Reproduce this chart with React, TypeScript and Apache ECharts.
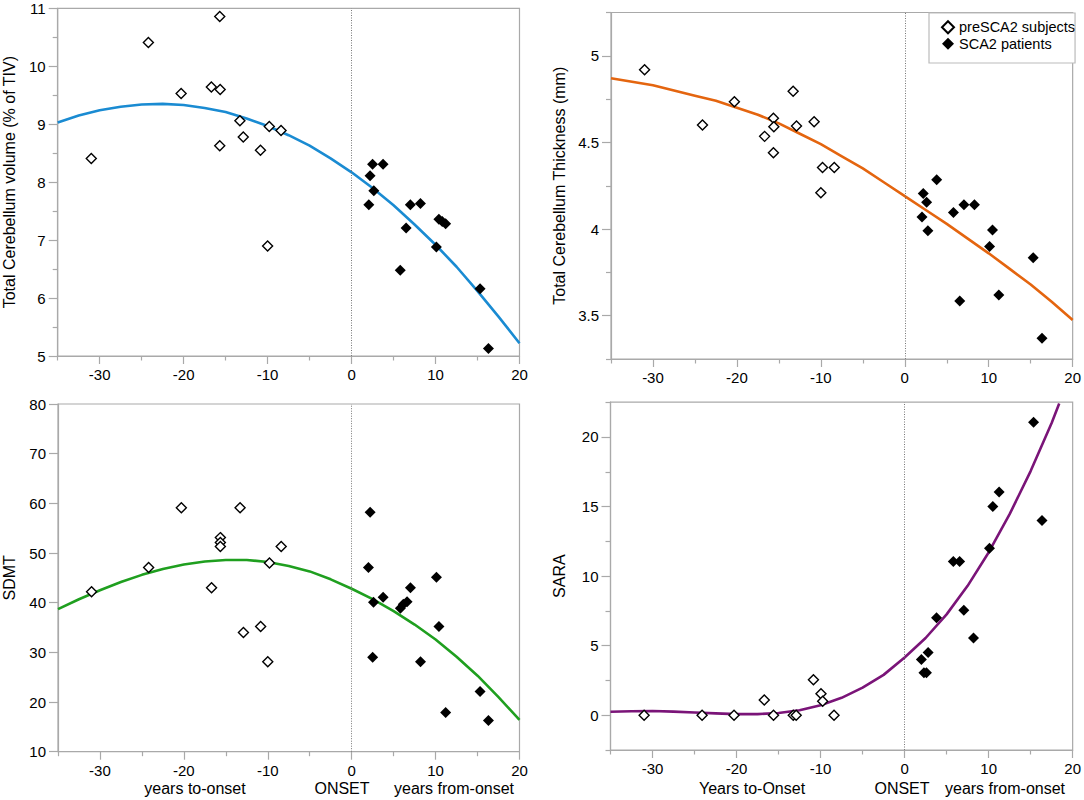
import React, { useEffect, useRef } from "react";
import * as echarts from "echarts";

// ---------- data ----------
const xMajorTicks = [-30, -20, -10, 0, 10, 20];
const xMinorTicks = [-35, -25, -15, -5, 5, 15];

// fitted curves are read every 2.5 years
const curveYears = [-35, -32.5, -30, -27.5, -25, -22.5, -20, -17.5, -15, -12.5, -10, -7.5, -5, -2.5, 0, 2.5, 5, 7.5, 10, 12.5, 15, 17.5, 20];

// Panel 1: Total cerebellum volume
const volTicks = [5, 6, 7, 8, 9, 10, 11];
const volMinor = [5.5, 6.5, 7.5, 8.5, 9.5, 10.5];
const volCurveY = [9.03, 9.15, 9.24, 9.3, 9.34, 9.35, 9.33, 9.28, 9.21, 9.1, 8.97, 8.81, 8.63, 8.41, 8.17, 7.9, 7.6, 7.27, 6.92, 6.54, 6.12, 5.68, 5.22];
const volPreX = [-31.0, -24.2, -20.3, -16.7, -15.65, -15.7, -15.7, -13.3, -12.9, -10.85, -9.8, -10.0, -8.4];
const volPreY = [8.41, 10.41, 9.53, 9.64, 9.6, 10.86, 8.63, 9.06, 8.78, 8.55, 8.96, 6.9, 8.89];
const volPatX = [2.05, 2.2, 2.5, 2.65, 3.75, 5.8, 6.5, 7.0, 8.2, 10.1, 10.4, 10.8, 11.2, 15.3, 16.3];
const volPatY = [7.61, 8.11, 8.31, 7.85, 8.31, 6.48, 7.21, 7.61, 7.63, 6.88, 7.36, 7.32, 7.28, 6.16, 5.13];

// Panel 2: Total cerebellum thickness
const thkTicks = [3.5, 4, 4.5, 5];
const thkMinor = [3.25, 3.75, 4.25, 4.75, 5.25];
const thkCurveY = [4.87, 4.85, 4.83, 4.8, 4.77, 4.74, 4.7, 4.66, 4.61, 4.55, 4.49, 4.42, 4.35, 4.27, 4.19, 4.11, 4.03, 3.945, 3.86, 3.77, 3.68, 3.58, 3.475];
const thkPreX = [-31.0, -24.1, -20.3, -16.7, -15.65, -15.6, -15.65, -13.3, -12.9, -10.8, -9.8, -10.0, -8.4];
const thkPreY = [4.92, 4.6, 4.735, 4.535, 4.64, 4.59, 4.44, 4.795, 4.595, 4.62, 4.355, 4.21, 4.355];
const thkPatX = [2.05, 2.2, 2.6, 2.75, 3.8, 5.8, 6.55, 7.05, 8.3, 10.1, 10.45, 11.2, 15.3, 16.35];
const thkPatY = [4.07, 4.205, 4.155, 3.99, 4.285, 4.095, 3.585, 4.14, 4.14, 3.9, 3.995, 3.62, 3.835, 3.37];

// Panel 3: SDMT
const sdmtTicks = [10, 20, 30, 40, 50, 60, 70, 80];
const sdmtMinor: number[] = [];
const sdmtCurveY = [38.7, 40.7, 42.5, 44.15, 45.6, 46.8, 47.7, 48.3, 48.6, 48.6, 48.2, 47.4, 46.3, 44.7, 42.8, 40.7, 38.3, 35.6, 32.6, 29.1, 25.3, 21.0, 16.4];
const sdmtPreX = [-31.0, -24.2, -20.3, -16.7, -15.65, -15.65, -15.65, -13.3, -12.9, -10.85, -9.8, -10.0, -8.4];
const sdmtPreY = [42.2, 47.1, 59.1, 43.0, 53.1, 52.1, 51.3, 59.1, 34.0, 35.2, 48.0, 28.1, 51.3];
const sdmtPatX = [2.2, 2.0, 2.6, 2.5, 3.75, 5.8, 6.15, 6.6, 7.0, 8.2, 10.1, 10.4, 11.2, 15.3, 16.3];
const sdmtPatY = [58.2, 47.1, 40.1, 29.0, 41.1, 38.9, 39.7, 40.2, 43.0, 28.1, 45.1, 35.2, 17.9, 22.1, 16.3];

// Panel 4: SARA (curve leaves the plot at the top near 18.4 years)
const saraTicks = [0, 5, 10, 15, 20];
const saraMinor = [-2.5, 2.5, 7.5, 12.5, 17.5, 22.5];
const saraCurveX = [-35, -32.5, -30, -27.5, -25, -22.5, -20, -17.5, -15, -12.5, -10, -7.5, -5, -2.5, 0, 2.5, 5, 7.5, 10, 12.5, 15, 17.5, 18.4];
const saraCurveY = [0.25, 0.29, 0.3, 0.26, 0.2, 0.13, 0.08, 0.08, 0.16, 0.36, 0.72, 1.25, 1.98, 2.9, 4.15, 5.55, 7.25, 9.3, 11.7, 14.45, 17.55, 21.0, 22.4];
const saraPreX = [-31.0, -24.1, -20.3, -16.7, -15.6, -13.25, -12.9, -10.85, -9.95, -9.75, -8.4];
const saraPreY = [0, 0, 0, 1.1, 0, 0, 0, 2.55, 1.55, 1.0, 0];
const saraPatX = [2.0, 2.3, 2.6, 2.8, 3.8, 5.8, 6.55, 7.05, 8.2, 10.1, 10.5, 11.25, 15.35, 16.35];
const saraPatY = [4.0, 3.05, 3.05, 4.5, 7.0, 11.05, 11.05, 7.55, 5.55, 12.0, 15.0, 16.05, 21.05, 14.0];

const PRE_NAME = "preSCA2 subjects";
const PAT_NAME = "SCA2 patients";
const FONT = "'Liberation Sans', Arial, Helvetica, sans-serif";
const AXIS_GRAY = "#a9a9a9";

type Panel = {
  grid: { left: number; top: number; width: number; height: number };
  yMin: number;
  yMax: number;
  yMajor: number[];
  yMinor: number[];
  yName: string;
  nameGap: number;
  color: string;
  smooth: boolean | number;
  cx: number[];
  cy: number[];
  px: number[];
  py: number[];
  qx: number[];
  qy: number[];
};

const panels: Panel[] = [
  {
    grid: { left: 57.7, top: 8.3, width: 461.8, height: 347.7 },
    yMin: 5, yMax: 11, yMajor: volTicks, yMinor: volMinor,
    yName: "Total Cerebellum volume (% of TIV)", nameGap: 40,
    color: "#1a8bd2", smooth: false,
    cx: curveYears, cy: volCurveY, px: volPreX, py: volPreY, qx: volPatX, qy: volPatY,
  },
  {
    grid: { left: 611, top: 12.5, width: 462.3, height: 346.5 },
    yMin: 3.25, yMax: 5.25, yMajor: thkTicks, yMinor: thkMinor,
    yName: "Total Cerebellum Thickness (mm)", nameGap: 44,
    color: "#e4650f", smooth: false,
    cx: curveYears, cy: thkCurveY, px: thkPreX, py: thkPreY, qx: thkPatX, qy: thkPatY,
  },
  {
    grid: { left: 57.7, top: 404, width: 461.8, height: 347.7 },
    yMin: 10, yMax: 80, yMajor: sdmtTicks, yMinor: sdmtMinor,
    yName: "SDMT", nameGap: 41,
    color: "#1f9f1f", smooth: false,
    cx: curveYears, cy: sdmtCurveY, px: sdmtPreX, py: sdmtPreY, qx: sdmtPatX, qy: sdmtPatY,
  },
  {
    grid: { left: 610.5, top: 402.2, width: 462.8, height: 347.8 },
    yMin: -2.5, yMax: 22.5, yMajor: saraTicks, yMinor: saraMinor,
    yName: "SARA", nameGap: 43,
    color: "#7a1478", smooth: false,
    cx: saraCurveX, cy: saraCurveY, px: saraPreX, py: saraPreY, qx: saraPatX, qy: saraPatY,
  },
];

const bottomTitles = [
  { text: "years to-onset", x: 195, y: 788 },
  { text: "ONSET", x: 342, y: 788 },
  { text: "years from-onset", x: 454, y: 788 },
  { text: "Years to-Onset", x: 752, y: 788 },
  { text: "ONSET", x: 902, y: 788 },
  { text: "years from-onset", x: 1005, y: 788 },
];

function zip(xs: number[], ys: number[]) {
  return xs.map((x, i) => [x, ys[i]]);
}

function buildOption() {
  const grid: any[] = [];
  const xAxis: any[] = [];
  const yAxis: any[] = [];
  const series: any[] = [];
  const tickLine = { color: AXIS_GRAY, width: 1.2 };

  panels.forEach((p, i) => {
    grid.push({ ...p.grid, show: true, borderColor: AXIS_GRAY, borderWidth: 1.2, backgroundColor: "transparent", containLabel: false });

    xAxis.push({
      type: "value", gridIndex: i, position: "bottom", min: -35, max: 20, interval: 5,
      axisLine: { show: true, onZero: false, lineStyle: tickLine },
      axisTick: { show: true, customValues: xMajorTicks, length: 8, lineStyle: tickLine },
      axisLabel: { show: true, customValues: xMajorTicks, margin: 11, fontSize: 15, color: "#000", fontFamily: FONT },
      splitLine: { show: false },
    });
    xAxis.push({
      type: "value", gridIndex: i, position: "bottom", min: -35, max: 20, interval: 5,
      axisLine: { show: false, onZero: false },
      axisTick: { show: true, customValues: xMinorTicks, length: 4.5, lineStyle: tickLine },
      axisLabel: { show: false },
      splitLine: { show: false },
    });

    yAxis.push({
      type: "value", gridIndex: i, position: "left", min: p.yMin, max: p.yMax,
      name: p.yName, nameLocation: "middle", nameGap: p.nameGap,
      nameTextStyle: { fontSize: 16, color: "#000", fontFamily: FONT },
      axisLine: { show: true, onZero: false, lineStyle: tickLine },
      axisTick: { show: true, customValues: p.yMajor, length: 9, lineStyle: tickLine },
      axisLabel: { show: true, customValues: p.yMajor, margin: 12, fontSize: 15, color: "#000", fontFamily: FONT },
      splitLine: { show: false },
    });
    yAxis.push({
      type: "value", gridIndex: i, position: "left", min: p.yMin, max: p.yMax,
      axisLine: { show: false, onZero: false },
      axisTick: { show: p.yMinor.length > 0, customValues: p.yMinor, length: 5, lineStyle: tickLine },
      axisLabel: { show: false },
      splitLine: { show: false },
    });

    series.push({
      type: "line", name: "fit" + i, xAxisIndex: 2 * i, yAxisIndex: 2 * i,
      data: zip(p.cx, p.cy), showSymbol: false, symbol: "none", smooth: p.smooth,
      lineStyle: { color: p.color, width: 2.6, join: "round" }, z: 2, clip: true, silent: true,
      markLine: {
        silent: true, symbol: ["none", "none"], label: { show: false },
        lineStyle: { color: "#777", width: 1, type: [1, 1.5] },
        data: [{ xAxis: 0 }],
      },
    });
    series.push({
      type: "scatter", name: PRE_NAME, xAxisIndex: 2 * i, yAxisIndex: 2 * i,
      data: zip(p.px, p.py), symbol: "diamond", symbolSize: 10,
      itemStyle: { color: "#fff", borderColor: "#000", borderWidth: 1.4, opacity: 1 }, z: 4,
    });
    series.push({
      type: "scatter", name: PAT_NAME, xAxisIndex: 2 * i, yAxisIndex: 2 * i,
      data: zip(p.qx, p.qy), symbol: "diamond", symbolSize: 11,
      itemStyle: { color: "#000", borderWidth: 0, opacity: 1 }, z: 5,
    });
  });

  return {
    animation: false,
    backgroundColor: "#fff",
    textStyle: { fontFamily: FONT },
    grid, xAxis, yAxis, series,
    legend: {
      orient: "vertical", left: 929, top: 13,
      data: [{ name: PRE_NAME, icon: "diamond" }, { name: PAT_NAME, icon: "diamond" }],
      itemWidth: 12, itemHeight: 12, itemGap: 1.5,
      padding: [6.75, 0, 11.75, 12],
      backgroundColor: "#fff", borderColor: "#bbb", borderWidth: 1.2,
      textStyle: { fontSize: 14.5, color: "#000", fontFamily: FONT },
      selectedMode: false,
    },
    graphic: bottomTitles.map((t) => ({
      type: "text", x: t.x, y: t.y, silent: true,
      style: { text: t.text, fontSize: 16, fontFamily: FONT, fill: "#000", align: "center", verticalAlign: "middle", textAlign: "center", textVerticalAlign: "middle" },
    })),
  };
}

export default function App() {
  const ref = useRef<HTMLDivElement>(null);
  useEffect(() => {
    document.body.style.margin = "0";
    if (!ref.current) return;
    const chart = echarts.init(ref.current, undefined, { renderer: "svg" });
    chart.setOption(buildOption() as any);
    return () => chart.dispose();
  }, []);
  return <div ref={ref} style={{ position: "fixed", left: 0, top: 0, width: 1084, height: 800, background: "#fff" }} />;
}
